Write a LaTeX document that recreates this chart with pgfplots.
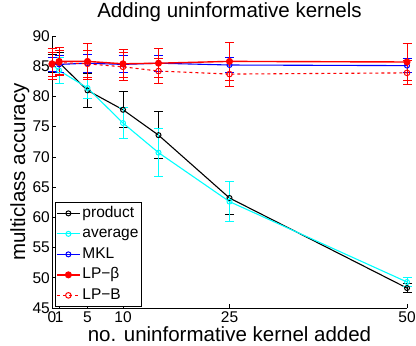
\documentclass[border=0pt]{standalone}
\usepackage{pgfplots}
\pgfplotsset{compat=1.18}
\usepackage{fontspec}
\setmainfont{Liberation Sans}
\definecolor{mcyan}{rgb}{0,1,1}
\definecolor{mblue}{rgb}{0,0,1}
\definecolor{mred}{rgb}{1,0,0}
\begin{document}
\begin{tikzpicture}
\begin{axis}[
  scale only axis, width=355pt, height=272pt,
  xmin=0, xmax=50, ymin=45, ymax=90,
  xtick={0,1,5,10,25,50},
  xticklabels={0,1,5,10,25,50},
  ytick={45,50,...,90},
  axis x line*=bottom, axis y line*=left,
  tick align=inside, major tick length=4pt,
  tick style={black, line width=0.6pt},
  axis line style={black, line width=0.6pt, -},
  /pgf/number format/assume math mode=true,
  ticklabel style={font=\fontsize{15.5}{15.5}\selectfont},
  xticklabel style={inner xsep=0pt},
  yticklabel style={inner xsep=2pt},
  title={Adding uninformative kernels},
  title style={font=\fontsize{20.5}{20.5}\selectfont, at={(axis description cs:0.5,1)}, anchor=base, yshift=13pt},
  xlabel={no. uninformative kernel added},
  ylabel={multiclass accuracy},
  label style={font=\fontsize{20.5}{20.5}\selectfont},
  xlabel style={at={(axis description cs:0.5,0)}, anchor=base, yshift=-33pt, inner ysep=0pt},
  ylabel style={at={(axis description cs:-0.076,0.5)}, anchor=base},
  clip=false,
  legend cell align=left,
  legend style={at={(axis description cs:0.0085,0.004)}, anchor=south west, draw=black, line width=0.6pt,
    font=\fontsize{15.5}{15.5}\selectfont, inner sep=1pt, row sep=0pt,
    nodes={text height=11pt, text depth=3.5pt, inner ysep=3pt, inner xsep=2pt}},
  legend image code/.code={\draw[mark repeat=2,mark phase=2] plot coordinates {(0cm,0cm) (0.4cm,0cm) (0.8cm,0cm)};},
  error bars/error bar style={line width=1pt},
  error bars/error mark options={rotate=90, mark size=4.5pt, line width=1pt},
]
\addplot+[black, line width=1.1pt, mark=o, mark size=2.5pt, mark options={solid, line width=1pt},
  error bars/.cd, y dir=both, y explicit]
coordinates {(0,85.4) +- (0,1.5) (1,85.6) +- (0,1.6) (5,81.0) +- (0,2.8) (10,77.8) +- (0,3.0) (15,73.6) +- (0,3.9) (25,63.2) +- (0,2.8) (50,48.3) +- (0,0.7)};
\addlegendentry{product}
\addplot+[mcyan, line width=1.1pt, mark=o, mark size=2.5pt, mark options={solid, line width=1pt},
  error bars/.cd, y dir=both, y explicit]
coordinates {(0,85.3) +- (0,2.0) (1,84.3) +- (0,2.2) (5,81.4) +- (0,1.8) (10,75.6) +- (0,2.6) (15,70.7) +- (0,4.0) (25,62.6) +- (0,3.3) (50,49.3) +- (0,0.7)};
\addlegendentry{average}
\addplot+[mblue, line width=1.1pt, mark=o, mark size=2.5pt, mark options={solid, line width=1pt},
  error bars/.cd, y dir=both, y explicit]
coordinates {(0,85.3) +- (0,1.2) (1,85.3) +- (0,1.4) (5,85.5) +- (0,1.5) (10,85.3) +- (0,1.4) (15,85.5) +- (0,1.3) (25,85.2) +- (0,1.2) (50,85.1) +- (0,1.2)};
\addlegendentry{MKL}
\addplot+[mred, line width=1.4pt, mark=*, mark size=3pt, mark options={solid, fill=mred, line width=1pt},
  error bars/.cd, y dir=both, y explicit]
coordinates {(0,85.4) +- (0,2.6) (1,85.8) +- (0,2.3) (5,85.8) +- (0,3.0) (10,85.4) +- (0,2.3) (15,85.5) +- (0,2.4) (25,85.8) +- (0,3.1) (50,85.7) +- (0,3.0)};
\addlegendentry{LP\symbol{"2212}β}
\addplot+[mred, line width=1.1pt, dashed, mark=o, mark size=2.8pt, mark options={solid, line width=1pt},
  error bars/.cd, y dir=both, y explicit, error bar style={solid}]
coordinates {(0,85.3) +- (0,2.0) (1,85.6) +- (0,2.0) (5,85.4) +- (0,2.2) (10,84.9) +- (0,2.3) (15,84.2) +- (0,2.0) (25,83.7) +- (0,2.0) (50,83.9) +- (0,2.0)};
\addlegendentry{LP\symbol{"2212}B}
\end{axis}
\pgfresetboundingbox
\path ([xshift=-52pt,yshift=-37pt]current axis.south west) rectangle ([xshift=9pt,yshift=36pt]current axis.north east);
\end{tikzpicture}
\end{document}
